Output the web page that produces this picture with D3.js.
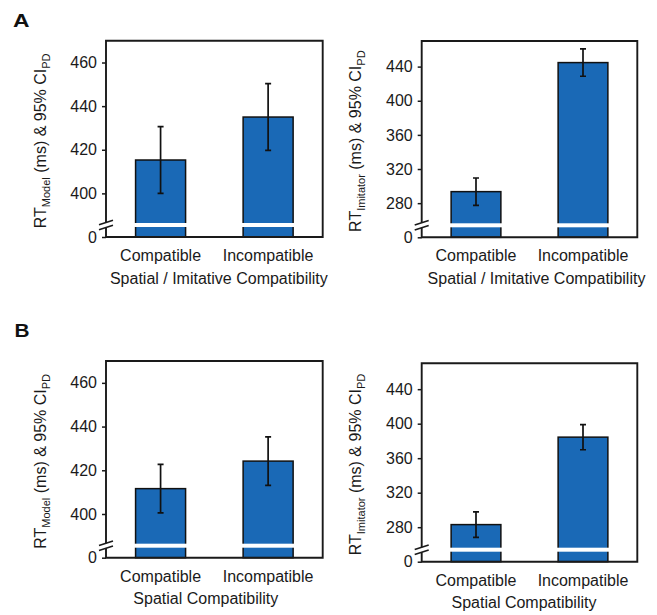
<!DOCTYPE html>
<html>
<head>
<meta charset="utf-8">
<script src="https://cdn.jsdelivr.net/npm/d3@7"></script>
<style>
  body { margin: 0; background: #fff; }
  svg { display: block; font-family: "Liberation Sans", Arial, sans-serif; }
  .tick text { font-size: 16px; fill: #1a1a1a; }
  .tick line { stroke: #1a1a1a; stroke-width: 1.5; }
  .frame { stroke: #1a1a1a; stroke-width: 1.9; fill: none; }
  .bar { fill: #1a69b6; stroke: #111; stroke-width: 1.5; }
  .err { stroke: #111; stroke-width: 1.7; fill: none; }
</style>
</head>
<body>
<svg width="657" height="615"></svg>
<script>
// categories and values
const categories = ["Compatible", "Incompatible"];

const aModelMeans = [415.3, 435.0];
const aModelCI = [15.3, 15.3];
const aImitatorMeans = [293.5, 444.7];
const aImitatorCI = [16.0, 16.0];

const bModelMeans = [411.6, 424.2];
const bModelCI = [11.1, 11.1];
const bImitatorMeans = [283.0, 384.4];
const bImitatorCI = [14.7, 14.6];

const modelDomain = [380, 470];
const modelTicks = [400, 420, 440, 460];
const imitatorDomain = [240, 470];
const imitatorTicks = [280, 320, 360, 400, 440];

const titleA = "Spatial / Imitative Compatibility";
const titleB = "Spatial Compatibility";

const svg = d3.select("svg");

const panels = [
  {x0: 106, x1: 322.7, y0: 40.7, y1: 237, means: aModelMeans, ci: aModelCI,
   domain: modelDomain, ticks: modelTicks, sub: "Model", title: titleA, titleDx: 4.5},
  {x0: 421.7, x1: 637.3, y0: 41, y1: 237.3, means: aImitatorMeans, ci: aImitatorCI,
   domain: imitatorDomain, ticks: imitatorTicks, sub: "Imitator", title: titleA, titleDx: 7},
  {x0: 106, x1: 322.7, y0: 361, y1: 557.7, means: bModelMeans, ci: bModelCI,
   domain: modelDomain, ticks: modelTicks, sub: "Model", title: titleB, titleDx: -8.5},
  {x0: 421.7, x1: 637.3, y0: 363.3, y1: 561.7, means: bImitatorMeans, ci: bImitatorCI,
   domain: imitatorDomain, ticks: imitatorTicks, sub: "Imitator", title: titleB, titleDx: -5.5}
];

function drawPanel(p) {
  const g = svg.append("g");
  const x = d3.scaleBand().domain(categories).range([p.x0, p.x1])
              .paddingInner(0.535).paddingOuter(0.275);
  const y = d3.scaleLinear().domain(p.domain).range([p.y1, p.y0]);

  // bars
  g.selectAll("rect.bar").data(categories).enter().append("rect")
    .attr("class", "bar")
    .attr("x", d => x(d))
    .attr("width", x.bandwidth())
    .attr("y", (d, i) => y(p.means[i]))
    .attr("height", (d, i) => y(p.domain[0]) - y(p.means[i]));

  // white break band across the bars
  g.selectAll("rect.gap").data(categories).enter().append("rect")
    .attr("x", d => x(d) - 1.5)
    .attr("width", x.bandwidth() + 3)
    .attr("y", p.y1 - 14)
    .attr("height", 4)
    .attr("fill", "#fff");

  // error bars
  const cap = 3;
  categories.forEach((c, i) => {
    const cx = x(c) + x.bandwidth() / 2;
    const hi = y(p.means[i] + p.ci[i]), lo = y(p.means[i] - p.ci[i]);
    g.append("path").attr("class", "err")
      .attr("d", `M${cx},${lo}V${hi}M${cx - cap},${hi}H${cx + cap}M${cx - cap},${lo}H${cx + cap}`);
  });

  // y axis ticks
  const yAxis = d3.axisLeft(y)
    .tickValues([p.domain[0]].concat(p.ticks))
    .tickSize(4).tickSizeOuter(0).tickPadding(5)
    .tickFormat(v => v === p.domain[0] ? "0" : v);
  const ga = g.append("g").attr("transform", `translate(${p.x0},0)`).call(yAxis);
  ga.select(".domain").remove();
  ga.selectAll(".tick text").attr("font-family", null).attr("font-size", null);

  // frame with broken left axis
  const bU = p.y1 - 14.5, bL = p.y1 - 9.5;
  g.append("path").attr("class", "frame")
    .attr("d", `M${p.x0},${bU}V${p.y0}H${p.x1}V${p.y1}H${p.x0}V${bL}`);
  g.append("path").attr("class", "frame").style("stroke-width", 1.6)
    .attr("d", `M${p.x0 - 7},${bU + 2.3}L${p.x0 + 7},${bU - 2.3}M${p.x0 - 7},${bL + 2.3}L${p.x0 + 7},${bL - 2.3}`);

  // category labels
  g.selectAll("text.cat").data(categories).enter().append("text")
    .attr("x", d => x(d) + x.bandwidth() / 2)
    .attr("y", p.y1 + 24)
    .attr("text-anchor", "middle")
    .attr("font-size", 16).attr("fill", "#1a1a1a")
    .text(d => d);

  // x title
  g.append("text")
    .attr("x", (p.x0 + p.x1) / 2 + p.titleDx)
    .attr("y", p.y1 + 46.5)
    .attr("text-anchor", "middle")
    .attr("font-size", 16).attr("fill", "#1a1a1a")
    .text(p.title);

  // y title
  const yt = g.append("text")
    .attr("transform", `translate(${p.x0 - 60.5},${(p.y0 + p.y1) / 2 + 2}) rotate(-90)`)
    .attr("text-anchor", "middle")
    .attr("font-size", 16).attr("fill", "#1a1a1a");
  yt.append("tspan").text("RT");
  yt.append("tspan").attr("font-size", 11).attr("dy", 4).text(p.sub);
  yt.append("tspan").attr("dy", -4).text(" (ms) & 95% CI");
  yt.append("tspan").attr("font-size", 11).attr("dy", 4).text("PD");
}

panels.forEach(drawPanel);

// panel letters
svg.append("text").attr("x", 13).attr("y", 27)
  .attr("font-size", 18).attr("font-weight", "bold").attr("fill", "#111")
  .attr("textLength", 16.5).attr("lengthAdjust", "spacingAndGlyphs").text("A");
svg.append("text").attr("x", 14.5).attr("y", 336.5)
  .attr("font-size", 18).attr("font-weight", "bold").attr("fill", "#111")
  .attr("textLength", 15).attr("lengthAdjust", "spacingAndGlyphs").text("B");
</script>
</body>
</html>
